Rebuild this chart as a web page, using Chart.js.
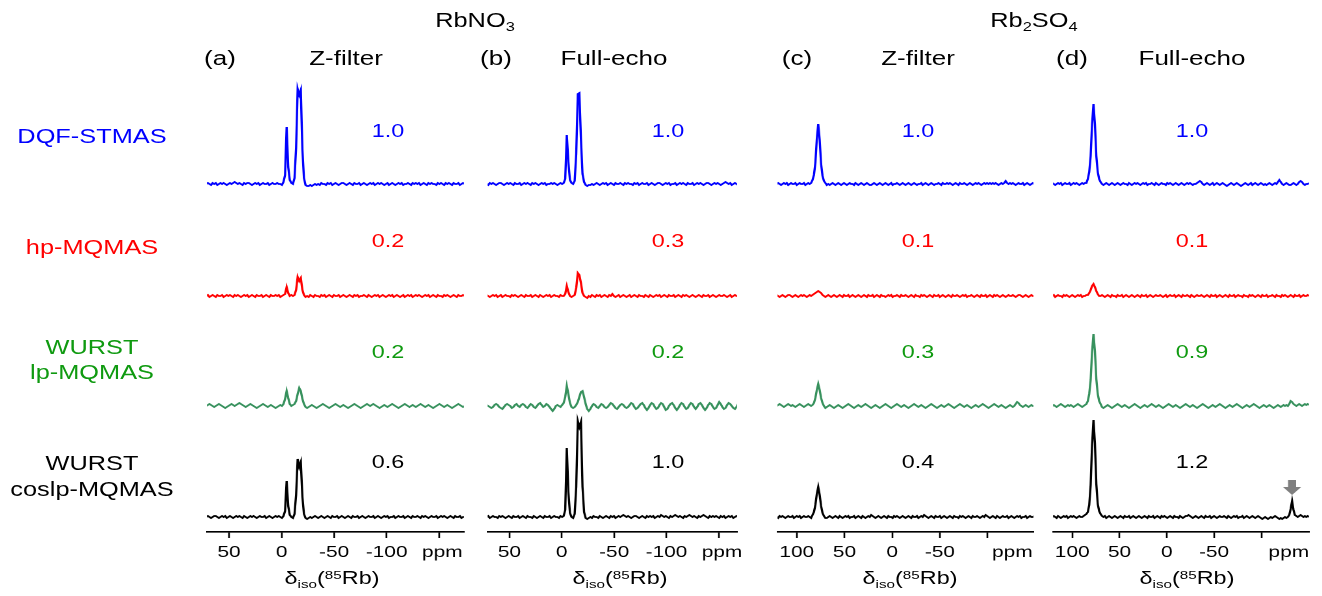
<!DOCTYPE html>
<html>
<head>
<meta charset="utf-8">
<title>85Rb isotropic projections</title>
<script src="https://cdn.jsdelivr.net/npm/chart.js@4.4.1/dist/chart.umd.min.js"></script>
<style>
  html, body { margin: 0; padding: 0; background: #fff; }
  body { width: 1322px; height: 596px; overflow: hidden; position: relative;
         font-family: "Liberation Sans", Arial, Helvetica, sans-serif; }
  #fig { position: absolute; left: 0; top: 0; height: 596px; transform-origin: 0 0; }
  .t { position: absolute; white-space: nowrap; transform: translate(-50%, -50%);
       line-height: 1; text-align: center; }
  .t sub { font-size: 0.65em; vertical-align: -0.3em; line-height: 0; }
  .t sup { font-size: 0.65em; vertical-align: 0.45em; line-height: 0; }
  canvas { position: absolute; }
</style>
</head>
<body>
<div id="fig"></div>
<script>
// ---------------------------------------------------------------------------
// Data: 85Rb isotropic projections (intensity in arbitrary units)
// ---------------------------------------------------------------------------
const sampleNames = ['RbNO<sub>3</sub>', 'Rb<sub>2</sub>SO<sub>4</sub>'];
const panelLetters = ['(a)', '(b)', '(c)', '(d)'];
const panelModes = ['Z-filter', 'Full-echo', 'Z-filter', 'Full-echo'];
const methodLabels = [['DQF-STMAS'], ['hp-MQMAS'], ['WURST', 'lp-MQMAS'], ['WURST', 'coslp-MQMAS']];

// relative efficiencies, per panel, top row to bottom row
const efficiencies = [
  ['1.0', '0.2', '0.2', '0.6'],
  ['1.0', '0.3', '0.2', '1.0'],
  ['1.0', '0.1', '0.3', '0.4'],
  ['1.0', '0.1', '0.9', '1.2']
];

// ppm axis ticks
const rbno3TickValues = [50, 0, -50, -100, -150];
const rbno3TickLabels = ['50', '0', '-50', '-100', ''];
const rb2so4TickValues = [100, 50, 0, -50, -100];
const rb2so4TickLabels = ['100', '50', '0', '-50', ''];
const unitLabelPpm = [-153, -153, -126, -129];
const axisTitle = '&delta;<sub>iso</sub>(<sup>85</sup>Rb)';

// sampling of the isotropic dimension (ppm of the first point, spacing in ppm)
const rbno3Grid = { start: 71.7, step: 1.5 };
const rb2so4Grid = { start: 121, step: 1.5 };

// RbNO3, Z-filter
const rbno3ZfDqf = [
  0,1,0,-1,1,0,1,-1,0,1,0,1,0,-1,0,
  1,0,1,2,1,0,1,0,-1,1,0,1,1,0,-1,
  0,1,0,1,-1,0,1,0,0,1,-1,0,1,0,0,
  1,0,0,-1,2,9,57,17,4,1,0,6,36,95,89,
  94,34,6,-1,-2,-2,-1,-2,-1,0,-1,0,-1,1,0,
  0,-1,1,0,1,-1,0,1,0,-1,0,1,1,0,-1,
  0,1,0,-1,1,0,0,1,-1,0,1,0,-1,0,1,
  0,1,-1,0,1,0,1,0,-1,0,1,-1,0,1,0,
  -1,0,1,0,1,-1,0,0,1,0,-1,1,0,1,0,
  1,-1,0,1,0,-1,1,0,1,0,0,-1,1,0,1,
  0,-1,1,0,1,0,-1,1,0,0,1,-1,0,1,0
];
const rbno3ZfHp = [
  0,1,-1,0,1,0,-1,1,0,0,1,-1,0,1,0,
  1,0,-1,1,0,1,0,-1,0,1,0,1,-1,0,1,
  0,-1,1,0,0,1,-1,0,1,0,-1,1,0,0,1,
  0,1,-1,0,1,2,9,3,0,1,0,1,6,19,15,
  18,6,1,-1,0,-1,1,0,-1,1,0,0,-1,1,0,
  1,-1,0,1,0,-1,1,0,0,1,-1,0,1,0,-1,
  0,1,0,-1,1,0,1,-1,0,0,1,0,-1,1,0,
  -1,0,1,0,1,-1,0,1,0,-1,0,1,0,1,-1,
  0,1,0,-1,0,1,-1,0,1,0,1,-1,0,1,0,
  1,0,-1,0,1,0,1,-1,0,1,0,-1,1,0,0,
  -1,1,0,1,0,-1,0,1,0,-1,1,0,0,1,0
];
const rbno3ZfLp = [
  0,1,2,1,0,-1,0,1,2,1,0,-1,-2,-1,0,
  1,2,1,0,1,2,3,2,1,0,-1,0,1,2,1,
  0,-1,-2,-1,0,1,2,1,0,-1,0,1,0,-1,-2,
  -1,0,1,0,2,7,15,8,2,0,1,2,5,12,18,
  15,7,2,-1,-2,-1,0,1,0,-1,-2,-1,0,1,2,
  1,0,-1,-2,-1,0,1,2,1,0,-1,0,1,0,-1,
  -2,-1,0,1,2,1,0,-1,-2,-1,0,1,2,1,0,
  1,2,1,0,-1,-2,-1,0,1,0,-1,0,1,2,1,
  0,-1,-2,-1,0,1,2,1,0,-1,0,1,0,-1,0,
  1,2,1,0,-1,0,1,0,-1,-2,-1,0,1,2,1,
  0,-1,0,1,0,-1,-2,-1,0,1,2,1,0,-1,0
];
const rbno3ZfCos = [
  0,1,0,-1,0,1,1,0,-1,0,1,0,1,-1,0,
  1,0,-1,0,1,0,1,0,-1,1,0,-1,0,1,0,
  1,0,-1,0,1,0,0,1,-1,0,1,0,-1,0,1,
  0,1,0,-1,1,6,36,11,2,0,-1,3,22,58,50,
  55,20,3,-1,-2,-1,0,-1,0,1,0,-1,0,1,0,
  -1,0,1,0,-1,1,0,0,1,-1,0,1,0,-1,0,
  1,0,-1,1,0,0,1,-1,0,1,0,-1,0,1,0,
  0,1,-1,0,1,0,-1,0,1,0,1,-1,0,0,1,
  -1,0,1,0,0,1,-1,0,1,0,-1,1,0,0,1,
  0,-1,1,0,1,0,-1,0,1,0,0,1,-1,0,1,
  0,1,0,-1,0,1,0,-1,1,0,0,1,-1,0,0
];

// RbNO3, full echo
const rbno3FeDqf = [
  0,-1,1,0,1,0,-1,0,1,1,0,-1,0,1,0,
  1,0,-1,1,0,0,1,-1,0,1,0,1,0,-1,1,
  0,1,0,-1,0,1,0,1,-1,0,0,1,0,1,0,
  -1,0,1,0,1,5,49,22,4,1,0,3,30,90,91,
  45,10,2,-1,-2,-1,-1,0,-1,0,1,0,-1,0,1,
  0,1,-1,0,1,0,-1,1,0,0,1,0,-1,1,0,
  1,0,0,-1,1,0,1,-1,0,1,0,0,1,-1,0,
  1,0,-1,0,1,1,0,-1,0,1,0,1,-1,0,0,
  1,-1,0,1,0,1,0,-1,1,0,0,1,-1,0,1,
  0,1,0,-1,0,1,1,0,-1,0,1,0,1,0,-1,
  0,1,2,1,0,1,-1,0,1,0,-1,1,0,1,0
];
const rbno3FeHp = [
  1,0,-1,0,1,0,1,-1,0,1,-1,0,1,0,0,
  -1,1,0,1,0,-1,0,1,0,-1,1,0,0,1,-1,
  0,1,0,-1,1,0,-1,0,1,0,1,-1,0,1,0,
  0,-1,1,0,0,2,10,4,0,-1,0,1,8,23,21,
  13,3,0,-1,-2,0,-1,1,0,-1,1,0,1,-1,0,
  1,0,-1,1,0,2,0,-1,0,1,-1,0,1,0,-1,
  0,1,-1,0,1,0,-1,1,0,0,-1,1,0,-1,1,
  0,-1,0,1,0,1,-1,0,1,0,-1,1,0,0,1,
  -1,0,1,0,-1,1,0,1,0,-1,0,1,0,-1,0,
  1,0,-1,1,0,0,1,-1,0,1,0,-1,0,1,0,
  0,1,0,-1,0,1,-1,0,1,0,0,-1,1,0,0
];
const rbno3FeLp = [
  1,0,-1,-2,-1,1,2,1,-1,-2,-3,-1,1,2,1,
  0,-2,-1,1,2,0,-1,1,2,1,-1,-2,0,2,1,
  -1,-2,0,2,3,1,-1,0,2,1,-1,-3,-5,-3,0,
  1,0,-1,1,3,9,20,12,3,-1,-2,-1,1,4,9,
  14,15,9,2,-3,-5,-3,0,2,1,-1,-2,0,2,1,
  -1,-2,-1,1,3,2,0,-2,-3,-1,1,2,1,-1,-2,
  -1,1,3,2,-1,-3,-2,0,2,3,1,-2,-4,-2,1,
  3,2,-1,-3,-2,1,3,2,-1,-4,-3,0,2,3,1,
  -2,-4,-2,1,3,2,-1,-3,-2,1,3,2,-1,-3,-1,
  2,3,1,-2,-4,-2,1,3,2,-1,-3,-2,1,4,2,
  -1,-3,-2,1,3,2,0,-2,-3,-1,2,3,1,-1,0
];
const rbno3FeCos = [
  0,1,-1,0,1,0,0,-1,1,0,1,0,-1,0,1,
  0,-1,1,0,0,1,-1,0,1,0,-1,1,0,0,-1,
  1,0,-1,0,1,0,-1,1,0,0,1,-1,0,1,0,
  0,-1,1,0,1,7,69,25,4,0,-1,3,30,96,90,
  95,30,5,-1,-2,-1,0,-1,1,0,0,-1,1,0,-1,
  0,1,0,-1,1,0,1,-1,0,1,0,1,2,1,0,
  1,0,-1,0,1,1,0,-1,0,1,0,-1,1,0,1,
  0,1,-1,0,1,0,2,1,0,1,0,-1,1,0,1,
  2,1,0,1,0,-1,1,0,1,2,1,0,1,0,-1,
  1,0,1,2,1,0,-1,1,0,1,0,1,0,-1,1,
  0,1,-1,0,1,0,1,-1,0,1,0,-1,0,1,0
];

// Rb2SO4, Z-filter
const rb2so4ZfDqf = [
  0,1,0,-1,0,1,0,1,-1,0,1,0,0,1,-1,
  0,1,0,0,1,-1,0,1,0,1,4,9,21,45,60,
  44,20,8,3,1,-1,0,-1,0,1,0,-1,0,1,0,
  -1,0,1,0,-1,0,1,0,0,-1,1,0,-1,0,1,
  0,-1,0,1,0,-1,-1,0,1,0,-1,0,1,0,-1,
  0,1,0,-1,0,1,-1,0,0,1,0,-1,0,1,0,
  -1,0,1,0,-1,0,1,0,-1,0,0,1,-1,0,1,
  0,-1,0,1,0,-1,0,0,1,0,-1,1,0,0,1,
  0,1,0,-1,0,1,0,-1,1,0,0,1,0,-1,0,
  1,0,-1,0,1,0,1,0,-1,0,1,0,1,0,1,
  0,1,0,1,0,-1,0,1,0,1,3,1,0,1,0,
  1,0,-1,0,1,0,0,1,-1,0,1,0,-1,0,1,
  0,0
];
const rb2so4ZfHp = [
  1,0,-1,0,1,0,-1,0,1,1,0,-1,0,1,0,
  -1,0,1,0,1,0,-1,0,1,0,1,2,3,4,5,
  4,3,1,0,-1,0,1,0,-1,0,1,0,-1,0,1,
  0,-1,1,0,0,1,-1,0,1,0,-1,0,1,0,-1,
  0,1,0,-1,1,0,0,1,-1,0,1,0,-1,1,0,
  0,-1,0,1,0,1,-1,0,0,1,0,-1,1,0,0,
  1,0,-1,0,1,0,-1,1,0,0,-1,1,0,1,0,
  -1,0,1,0,-1,1,0,0,1,-1,0,1,0,-1,0,
  1,0,-1,1,0,0,1,0,-1,0,1,0,1,-1,0,
  0,1,0,-1,0,1,0,-1,1,0,0,1,-1,0,1,
  0,-1,1,0,1,0,-1,0,1,0,-1,0,1,0,0,
  1,0,-1,0,1,1,0,-1,0,1,0,-1,0,1,0,
  0,1
];
const rb2so4ZfLp = [
  0,1,2,1,0,-1,0,1,2,1,0,1,0,-1,0,
  1,2,1,0,-1,0,1,2,1,0,1,3,8,16,22,
  16,8,3,0,-2,-1,0,1,0,-1,-2,-1,0,1,0,
  -1,-2,-1,0,1,2,1,0,-1,-2,-1,0,1,0,-1,
  0,1,2,1,0,-1,-2,-1,0,1,0,-1,-2,-1,0,
  1,2,1,0,-1,-2,-1,0,1,2,1,0,-1,0,1,
  0,-1,-2,-1,0,1,2,1,0,-1,0,1,0,-1,-2,
  -1,0,1,2,1,0,-1,-2,-1,0,1,0,-1,0,1,
  2,1,0,-1,-2,-1,0,1,2,1,0,-1,0,1,0,
  -1,-2,-1,0,1,0,-1,0,1,2,1,0,-1,-2,-1,
  0,1,2,1,0,-1,0,1,0,-1,-2,-1,0,1,0,
  -1,0,2,4,3,1,0,-1,0,1,0,-1,0,1,0,
  0,1
];
const rb2so4ZfCos = [
  0,-1,1,0,1,0,-1,0,1,0,0,1,-1,0,1,
  0,1,-1,0,1,0,0,1,0,-1,2,5,12,23,30,
  22,11,4,1,-1,-1,0,1,0,-1,0,1,0,-1,1,
  0,-1,0,1,0,1,-1,0,0,1,-1,0,1,0,-1,
  1,0,-1,0,1,0,2,1,0,-1,0,1,0,-1,0,
  1,0,-1,1,0,0,-1,1,0,1,0,-1,0,1,0,
  -1,0,1,0,-1,1,0,0,1,-1,0,1,0,2,1,
  0,-1,0,1,0,-1,1,0,0,1,-1,0,1,0,-1,
  0,1,0,-1,1,0,0,-1,1,0,1,0,-1,0,1,
  0,-1,1,0,0,1,0,-1,0,1,0,2,1,0,-1,
  0,1,0,-1,1,0,-1,0,1,0,0,1,-1,0,1,
  0,-1,0,1,0,1,-1,0,0,1,-1,0,1,0,0,
  1,0
];

// Rb2SO4, full echo
const rb2so4FeDqf = [
  1,0,-1,0,1,0,1,-1,0,1,0,0,1,-1,0,
  1,0,1,0,-1,0,1,0,1,1,5,12,28,60,80,
  60,28,12,5,2,0,-1,0,1,0,-1,0,1,0,-1,
  0,1,0,-1,0,1,0,0,-1,1,0,-1,0,1,0,
  1,0,-1,0,1,0,1,-1,0,0,1,0,-1,1,0,
  -1,0,1,0,0,-1,1,0,1,0,-1,0,1,0,-1,
  0,1,0,-1,0,1,0,1,0,-1,0,0,1,2,3,
  2,0,-1,0,1,0,-1,0,1,-1,0,1,0,-1,0,
  1,0,-1,-2,-1,0,1,0,-1,0,1,0,-1,-2,-1,
  0,1,0,-1,0,1,-1,0,1,0,-1,0,1,0,-1,
  0,-1,0,1,0,-1,0,1,0,2,4,2,0,-1,0,
  1,0,-1,-1,0,1,0,-1,0,2,3,2,0,-1,0,
  0,1
];
const rb2so4FeHp = [
  0,1,-1,0,1,0,0,-1,1,0,1,0,-1,0,1,
  0,-1,0,1,0,1,-1,0,0,1,1,3,6,10,12,
  9,5,2,0,0,1,0,-1,0,1,0,-1,1,0,0,
  -1,1,0,0,1,-1,0,1,0,-1,0,1,0,-1,0,
  1,0,-1,1,0,0,1,-1,0,1,0,-1,0,1,0,
  0,1,0,-1,0,1,-1,0,1,0,0,1,-1,0,1,
  0,-1,1,0,0,1,0,-1,1,0,-1,0,1,0,0,
  1,0,-1,0,1,0,-1,1,0,0,1,-1,0,1,0,
  -1,0,1,0,-1,1,0,0,1,-1,0,1,0,0,-1,
  1,0,0,-1,1,0,1,0,-1,0,1,0,-1,1,0,
  0,1,-1,0,0,1,0,-1,1,0,0,-1,1,0,1,
  0,-1,0,1,0,-1,1,0,0,1,-1,0,1,0,0,
  1,0
];
const rb2so4FeLp = [
  0,1,0,-1,0,1,2,1,0,-1,0,1,0,1,0,
  -1,0,1,2,1,0,-1,0,1,2,5,12,26,54,72,
  55,27,12,5,2,-1,-2,-1,0,1,0,-1,-2,-1,0,
  1,2,1,0,-1,0,1,0,-1,-2,-1,0,1,2,1,
  0,-1,-2,-1,0,1,0,-1,0,1,2,1,0,-1,0,
  1,0,-1,-2,-1,0,1,2,1,0,-1,0,1,0,-1,
  -2,-1,0,1,2,1,0,-1,0,1,0,-1,-2,-1,0,
  1,2,1,0,-1,-2,-1,0,1,0,-1,0,1,2,1,
  0,-1,-2,-1,0,1,0,-1,0,1,2,1,0,-1,-2,
  -1,0,1,0,-1,0,1,2,1,0,-1,-2,-1,0,1,
  0,-1,0,1,0,-1,-2,-1,0,1,0,-1,0,1,0,
  1,0,2,5,4,2,1,0,1,2,1,0,1,2,1,
  2,1
];
const rb2so4FeCos = [
  0,1,0,-1,1,0,-1,0,1,0,1,-1,0,1,0,
  1,0,-1,0,1,0,0,1,2,3,5,12,32,72,97,
  74,33,13,6,3,1,0,1,-1,0,1,0,-1,0,1,
  0,-1,0,1,0,-1,1,0,0,1,-1,0,1,0,-1,
  0,1,0,-1,0,1,0,-1,1,0,0,1,-1,0,1,
  0,-1,1,0,1,0,-1,0,1,0,-1,1,0,0,-1,
  1,0,-1,0,1,1,2,1,0,-1,0,1,0,-1,0,
  1,0,-1,1,0,0,1,-1,0,1,0,-1,0,1,0,
  0,1,0,-1,1,0,-1,0,1,0,1,-1,0,0,1,
  -1,0,1,0,-1,0,1,0,-1,0,1,0,-1,-2,-1,
  0,-1,-2,-1,0,-1,0,1,0,-1,-2,-1,-2,-1,0,
  -1,0,2,8,16,7,2,1,0,1,2,1,0,1,0,
  1,0
];
// weak extra resonance flagged with an arrow in panel (d)
const flaggedPeakPpm = -132.5;

const panelSpectra = [
  [rbno3ZfDqf, rbno3ZfHp, rbno3ZfLp, rbno3ZfCos],
  [rbno3FeDqf, rbno3FeHp, rbno3FeLp, rbno3FeCos],
  [rb2so4ZfDqf, rb2so4ZfHp, rb2so4ZfLp, rb2so4ZfCos],
  [rb2so4FeDqf, rb2so4FeHp, rb2so4FeLp, rb2so4FeCos]
];
const panelGrids = [rbno3Grid, rbno3Grid, rb2so4Grid, rb2so4Grid];
const panelTickValues = [rbno3TickValues, rbno3TickValues, rb2so4TickValues, rb2so4TickValues];
const panelTickLabels = [rbno3TickLabels, rbno3TickLabels, rb2so4TickLabels, rb2so4TickLabels];

// ---------------------------------------------------------------------------
// Layout and styling
// ---------------------------------------------------------------------------
const SX = 1.3;                       // horizontal stretch of the whole figure
const FONT = '"Liberation Sans", Arial, Helvetica, sans-serif';
const AXIS_Y = 532;                   // page y of the ppm axes
const PLOT_TOP = 60;                  // page y of the top of every plot area
const X_AXIS_H = 64;                  // room under each axis for its tick labels
const SIDE = 30;                      // spare canvas on each side of an axis, for edge labels
const rowBaseline = [348, 236, 126, 15];   // baseline height of each row above the axis
const lineColors = ['#0000ff', '#ff0000', '#37915d', '#000000'];
const textColors = ['#0000ff', '#ff0000', '#0f9a10', '#000000'];

// page geometry of the four panels (left/right ends of each ppm axis)
const panelFrames = [
  { left: 207, right: 464, max: 71.1, min: -173.6, letterX: 220, modeX: 346, effX: 388, titleX: 332 },
  { left: 487, right: 737, max: 70.8, min: -167.3, letterX: 496, modeX: 614, effX: 668, titleX: 620 },
  { left: 777, right: 1033, max: 120.2, min: -148.1, letterX: 797, modeX: 918, effX: 918, titleX: 910 },
  { left: 1053, right: 1309, max: 120.2, min: -150.4, letterX: 1072, modeX: 1192, effX: 1192, titleX: 1187 }
];
const sampleX = [475, 1034];
const effRowY = [131, 241, 352, 462];

const fig = document.getElementById('fig');
fig.style.width = (1322 / SX) + 'px';
fig.style.transform = 'scaleX(' + SX + ')';

function addText(html, cx, cy, size, color, extra) {
  const d = document.createElement('div');
  d.className = 't';
  d.innerHTML = html;
  d.style.left = (cx / SX) + 'px';
  d.style.top = cy + 'px';
  d.style.fontSize = size + 'px';
  d.style.color = color;
  if (extra) Object.assign(d.style, extra);
  fig.appendChild(d);
}

// titles
sampleNames.forEach((s, i) => addText(s, sampleX[i], 21, 19.5, '#000'));
panelFrames.forEach((f, p) => {
  addText(panelLetters[p], f.letterX, 58, 20, '#000');
  addText(panelModes[p], f.modeX, 58, 20, '#000');
  addText(axisTitle, f.titleX, 578, 18, '#000');
  efficiencies[p].forEach((e, r) => addText(e, f.effX, effRowY[r], 18, textColors[r]));
});

// method labels on the left
const methodY = [136, 247, 359.5, 476];
const methodLine = [25, 25, 25, 26];
methodLabels.forEach((lines, r) => {
  addText(lines.join('<br>'), 92, methodY[r], 19.5, textColors[r], { lineHeight: methodLine[r] + 'px' });
});

// arrow pointing at the flagged resonance
const peakArrow = {
  id: 'peakArrow',
  afterDatasetsDraw(chart, args, opts) {
    if (opts.ppm === undefined) return;
    const ctx = chart.ctx;
    const xs = chart.scales.x, ys = chart.scales.y;
    const px = xs.getPixelForValue(opts.ppm);
    const tip = ys.getPixelForValue(opts.value) - 6;
    const hw = 7, sw = 3.1;
    ctx.save();
    ctx.fillStyle = '#7f7f7f';
    ctx.beginPath();
    ctx.moveTo(px - sw, tip - 15);
    ctx.lineTo(px + sw, tip - 15);
    ctx.lineTo(px + sw, tip - 8);
    ctx.lineTo(px + hw, tip - 8);
    ctx.lineTo(px, tip);
    ctx.lineTo(px - hw, tip - 8);
    ctx.lineTo(px - sw, tip - 8);
    ctx.closePath();
    ctx.fill();
    ctx.restore();
  }
};

panelFrames.forEach((f, p) => {
  const canvas = document.createElement('canvas');
  const side = SIDE / SX;
  const w = (f.right - f.left) / SX + 2 * side;
  const h = (AXIS_Y - PLOT_TOP) + X_AXIS_H;
  canvas.width = w;
  canvas.height = h;
  canvas.style.left = (f.left / SX - side) + 'px';
  canvas.style.top = PLOT_TOP + 'px';
  canvas.style.width = w + 'px';
  canvas.style.height = h + 'px';
  fig.appendChild(canvas);

  const grid = panelGrids[p];
  const datasets = panelSpectra[p].map((vals, r) => ({
    data: vals.map((v, i) => ({ x: grid.start - i * grid.step, y: v + rowBaseline[r] })),
    borderColor: lineColors[r],
    borderWidth: 1.7,
    pointRadius: 0,
    tension: 0,
    fill: false
  }));

  const unit = unitLabelPpm[p];
  const tickList = panelTickValues[p].concat([unit]);
  const labelOf = new Map(panelTickValues[p].map((v, i) => [v, panelTickLabels[p][i]]));
  labelOf.set(unit, 'ppm');

  const arrowOpts = {};
  if (p === 3) {
    const cos = panelSpectra[3][3];
    const idx = Math.round((grid.start - flaggedPeakPpm) / grid.step);
    arrowOpts.ppm = flaggedPeakPpm;
    arrowOpts.value = cos[idx] + rowBaseline[3];
  }

  new Chart(canvas, {
    type: 'line',
    data: { datasets },
    plugins: [peakArrow],
    options: {
      responsive: false,
      animation: false,
      devicePixelRatio: 2,
      events: [],
      layout: { padding: { left: side, right: side, top: 0, bottom: 0 } },
      plugins: { legend: { display: false }, tooltip: { enabled: false }, peakArrow: arrowOpts },
      scales: {
        x: {
          type: 'linear',
          reverse: true,
          min: f.min,
          max: f.max,
          afterBuildTicks: s => { s.ticks = tickList.map(v => ({ value: v })); },
          afterFit: s => {
            // keep the plot area spanning the full axis length
            s.height = X_AXIS_H;
            s.paddingLeft = 0;
            s.paddingRight = 0;
          },
          ticks: {
            autoSkip: false, maxRotation: 0, minRotation: 0, padding: 5, color: '#000',
            font: { family: FONT, size: 16 },
            callback: v => (labelOf.has(v) ? labelOf.get(v) : '')
          },
          grid: {
            drawOnChartArea: false, drawTicks: true, tickLength: 6, tickWidth: 1.3,
            tickColor: c => (c.tick && c.tick.value === unit ? 'rgba(0,0,0,0)' : '#000')
          },
          border: { display: true, color: '#000', width: 1.6 }
        },
        y: { display: false, min: 0, max: AXIS_Y - PLOT_TOP }
      }
    }
  });
});
</script>
</body>
</html>
